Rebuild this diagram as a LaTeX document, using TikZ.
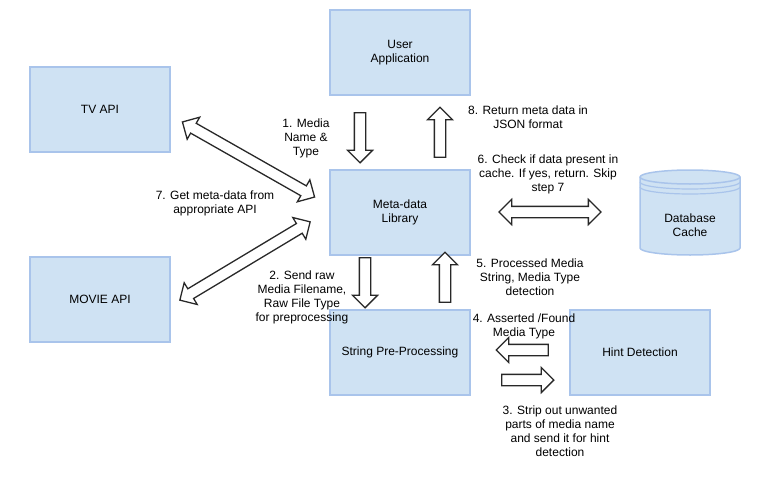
\documentclass[tikz,border=0pt]{standalone}
\usepackage{fontspec}
\setmainfont{Liberation Sans}
\usepackage{tikz}
\usetikzlibrary{shapes.arrows,positioning}
\definecolor{boxfill}{RGB}{207,226,243}
\definecolor{boxline}{RGB}{169,196,235}
\definecolor{arrline}{RGB}{40,40,40}

\begin{document}
\begin{tikzpicture}[x=1pt,y=-1pt,
    every node/.style={font=\fontsize{12}{14}\selectfont,align=center},
    box/.style={draw=boxline,fill=boxfill,line width=1.5pt,minimum width=140pt,minimum height=85pt},
    sarrow/.style={single arrow,draw=arrline,fill=white,line width=1.3pt,inner xsep=0pt,inner ysep=5pt,
        single arrow head extend=7pt,minimum height=50pt},
    darrow/.style={double arrow,draw=arrline,fill=white,line width=1.3pt,inner xsep=0pt,inner ysep=5pt,
        double arrow head extend=7pt,minimum height=102pt}]
    \useasboundingbox (0,0) rectangle (760,479);

    \node [box] (user) at (400,52.5) {User\\Application};
    \node [box] (tv) at (100,109.5) {TV API};
    \node [box] (meta) at (400,212.5) {Meta-data\\Library};
    \node [box] (movie) at (100,299.5) {MOVIE API};
    \node [box] (pre) at (400,352.5) {String Pre-Processing};
    \node [box] (hint) at (640,352.5) {Hint Detection};

    \draw [draw=boxline,fill=boxfill,line width=1.5pt]
        (640,177) -- (640,248) arc (180:360:50pt and 7pt) -- (740,177) arc (0:180:50pt and 7pt) -- cycle;
    \draw [draw=boxline,line width=1.5pt] (640,177) arc (180:360:50pt and 7pt);
    \draw [draw=boxline,line width=1.2pt] (640,182) arc (180:360:50pt and 7pt);
    \draw [draw=boxline,line width=1.2pt] (640,187) arc (180:360:50pt and 7pt);
    \node (db) at (690,225) {Database\\Cache};

    \node [sarrow,rotate=-90] (down1) at (360,135) {};
    \node [sarrow,rotate=90] (up8) at (440,135) {};
    \node [sarrow,rotate=-90] (down2) at (365,280) {};
    \node [sarrow,rotate=90] (up5) at (445,280) {};
    \node [sarrow,rotate=180,minimum height=52pt] (left4) at (525,350) {};
    \node [sarrow,minimum height=52pt] (right3) at (525,380) {};
    \node [darrow] (both6) at (550,212) {};
    \node [darrow,rotate=-29.6,minimum height=152pt] (bothtv) at (248.5,159.5) {};
    \node [darrow,rotate=31,minimum height=152pt] (bothmovie) at (245,261) {};

    \node (lab1) at (306,138) {1. Media\\Name \&\\Type};
    \node (lab8) at (528,117.5) {8. Return meta data in\\JSON format};
    \node (lab6) at (548,174) {6. Check if data present in\\cache. If yes, return. Skip\\step 7};
    \node (lab7) at (215,203) {7. Get meta-data from\\appropriate API};
    \node (lab2) at (302,297) {2. Send raw\\Media Filename,\\Raw File Type\\for preprocessing};
    \node (lab5) at (530,277) {5. Processed Media\\String, Media Type\\detection};
    \node (lab4) at (524,326) {4. Asserted /Found\\Media Type};
    \node (lab3) at (560,431) {3. Strip out unwanted\\parts of media name\\and send it for hint\\detection};
\end{tikzpicture}
\end{document}
